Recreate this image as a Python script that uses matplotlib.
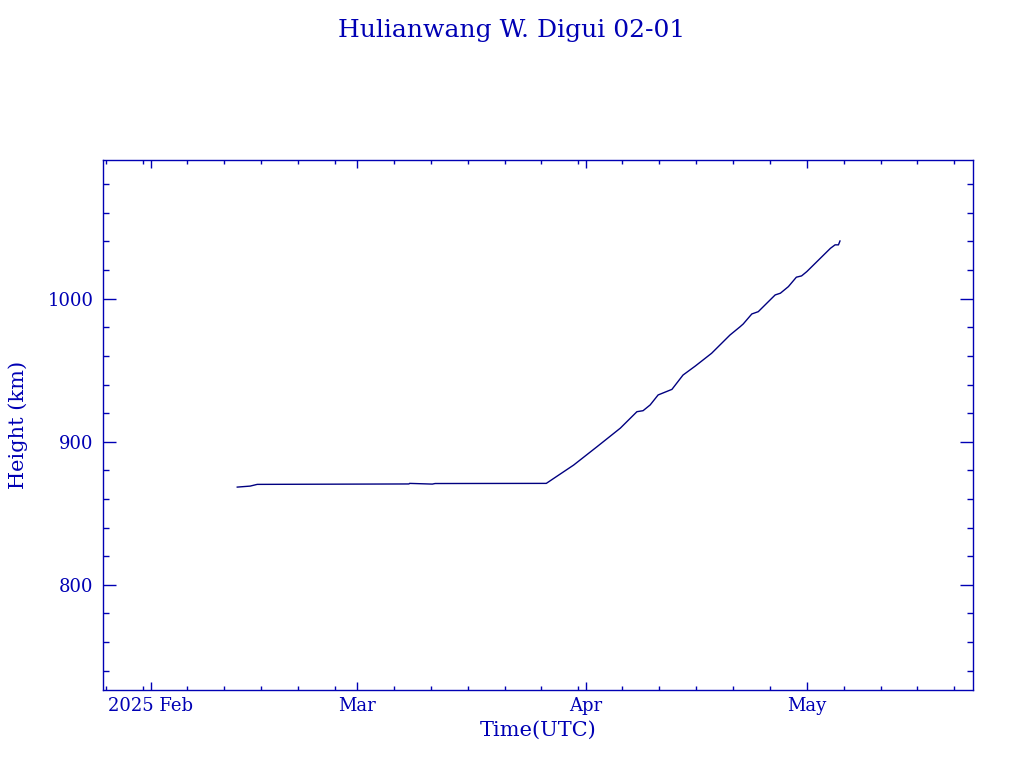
import matplotlib
matplotlib.use("Agg")
import matplotlib.pyplot as plt
import matplotlib.dates as mdates
import pandas as pd

title = "Hulianwang W. Digui 02-01"
times = ["2025-02-12 18:00", "2025-02-14 12:00", "2025-02-15 11:00", "2025-03-08 01:00",
         "2025-03-08 03:00", "2025-03-11 05:00", "2025-03-11 14:00", "2025-03-26 16:00",
         "2025-03-30 09:00", "2025-04-02 13:00", "2025-04-05 17:00", "2025-04-07 23:00",
         "2025-04-08 19:00", "2025-04-09 18:00", "2025-04-10 20:00", "2025-04-12 17:00",
         "2025-04-14 05:00", "2025-04-15 21:00", "2025-04-18 02:00", "2025-04-20 14:00",
         "2025-04-21 23:00", "2025-04-22 09:00", "2025-04-23 13:00", "2025-04-24 10:00",
         "2025-04-26 17:00", "2025-04-27 10:00", "2025-04-28 12:00", "2025-04-29 14:00",
         "2025-04-30 07:00", "2025-05-01 00:00", "2025-05-04 05:00", "2025-05-04 20:00",
         "2025-05-05 07:00", "2025-05-05 12:00"]
height = [868.3, 869.0, 870.2, 870.5,
          870.9, 870.4, 870.8, 870.9,
          883.7, 896.5, 909.5, 921.0,
          921.7, 925.7, 932.7, 936.6,
          946.6, 952.9, 961.8, 974.6,
          980.4, 982.3, 989.3, 990.9,
          1002.6, 1003.8, 1008.4, 1015.0,
          1015.9, 1018.9, 1035.2, 1037.6,
          1037.6, 1040.3]
xlim = ["2025-01-25 13:00", "2025-05-23 13:00"]
ylim = [726.5, 1096.9]
x_major = ["2025-02-01", "2025-03-01", "2025-04-01", "2025-05-01"]
x_major_labels = ["2025 Feb", "Mar", "Apr", "May"]
y_major = [800, 900, 1000]

text_color = "#0000b4"
line_color = "#000080"
font = ["DejaVu Serif"]
plt.rcParams["font.family"] = font

fig = plt.figure(figsize=(10.24, 7.68), dpi=100)
ax = fig.add_axes([103/1024, 1-690/768, 870/1024, 530/768])

t = pd.to_datetime(times)
ax.plot(t, height, color=line_color, lw=1.0)

ax.set_xlim(pd.to_datetime(xlim[0]), pd.to_datetime(xlim[1]))
ax.set_ylim(*ylim)

ax.set_xticks(pd.to_datetime(x_major))
ax.set_xticklabels(x_major_labels)
ax.xaxis.set_minor_locator(mdates.DayLocator(bymonthday=[6, 11, 16, 21, 26, 31]))
ax.set_yticks(y_major)
ax.set_yticklabels([str(v) for v in y_major])
ax.yaxis.set_minor_locator(matplotlib.ticker.MultipleLocator(20))

for s in ax.spines.values():
    s.set_color(text_color)
    s.set_linewidth(1.0)

ax.tick_params(axis="x", which="major", direction="in", length=6, width=1, color=text_color,
               labelcolor=text_color, labelsize=13, top=True, pad=5)
ax.tick_params(axis="x", which="minor", direction="in", length=2.6, width=1, color=text_color, top=True)
ax.tick_params(axis="y", which="major", direction="in", length=9.4, width=1, color=text_color,
               labelcolor=text_color, labelsize=13, right=True, pad=7)
ax.tick_params(axis="y", which="minor", direction="in", length=4.6, width=1, color=text_color, right=True)

ax.set_xlabel("Time(UTC)", color=text_color, fontsize=15, labelpad=4)
ax.set_ylabel("Height (km)", color=text_color, fontsize=15, labelpad=14)
fig.text(0.5, 1-30/768, title, color=text_color, fontsize=18, ha="center", va="center")

fig.savefig("out.png", dpi=100)
